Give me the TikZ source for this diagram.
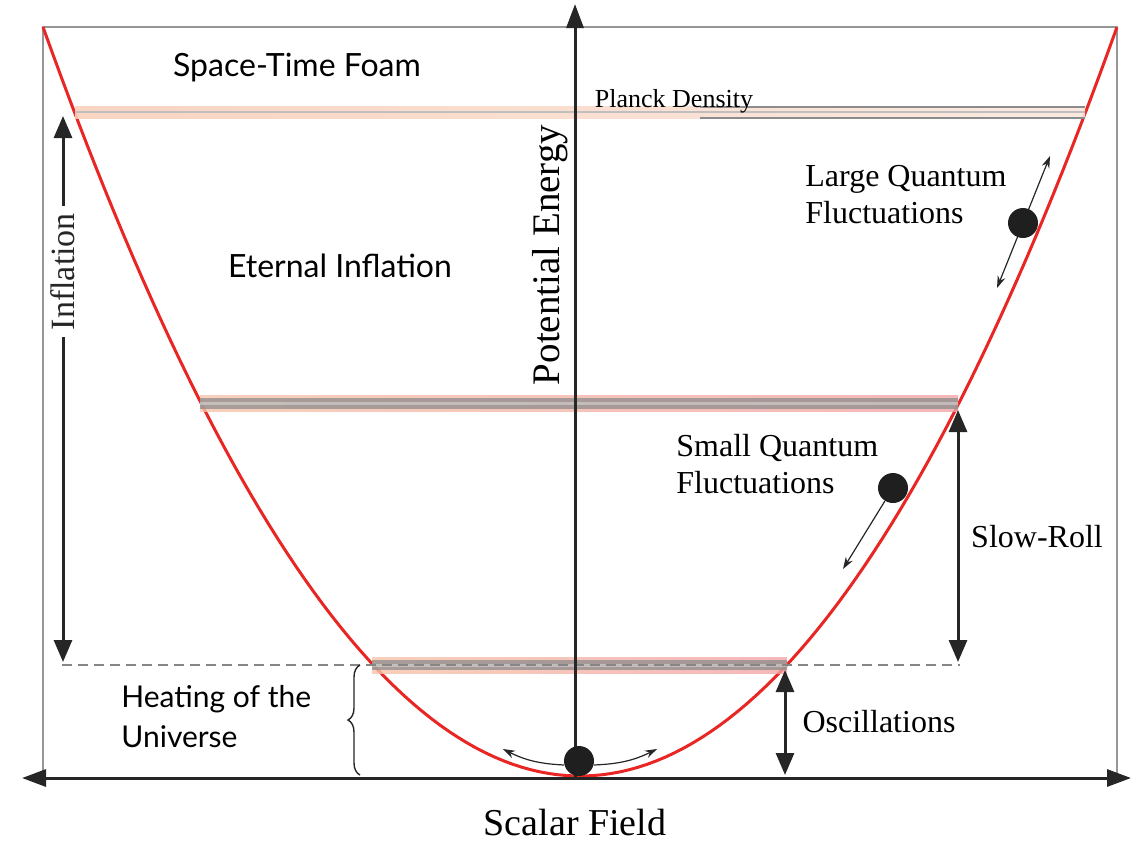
\documentclass[tikz,border=0pt]{standalone}
\usepackage{fontspec}
\setmainfont{Liberation Serif}
\newfontfamily\handfont{Lato}
\usetikzlibrary{arrows.meta,decorations.pathreplacing}
\definecolor{potred}{RGB}{232,38,36}
\definecolor{framegr}{RGB}{150,150,150}
\definecolor{bandpeach}{RGB}{246,196,170}
\definecolor{bandpink}{RGB}{242,165,168}
\definecolor{bandgray}{RGB}{140,140,140}

\begin{document}
\begin{tikzpicture}[x=0.5pt, y=-0.5pt,
  axis/.style={{Triangle[length=12pt,width=8.5pt]}-{Triangle[length=12pt,width=8.5pt]}, line width=1.5pt, black!85},
  axisup/.style={-{Triangle[length=12pt,width=8.5pt]}, line width=1.5pt, black!85},
  span/.style={{Triangle[length=11pt,width=9pt]}-{Triangle[length=11pt,width=9pt]}, line width=1.5pt, black!85},
  fluct/.style={line width=0.6pt, black!85, >={Stealth[length=6pt,width=4pt]}},
  ball/.style={circle, fill=black!88, inner sep=0pt, minimum size=15pt},
  lbl/.style={font=\fontsize{16}{18.5}\selectfont, align=left, inner sep=0pt},
  hand/.style={font=\handfont\fontsize{15}{20}\selectfont, align=left, inner sep=0pt},
  glow/.style={left color=bandpeach, right color=bandpink, opacity=0.8},
  core/.style={fill=bandgray, opacity=0.75},
]
\useasboundingbox (0,0) rectangle (1138,841);

% frame
\draw[framegr, line width=0.7pt] (43,778) -- (43,27) -- (1117,27) -- (1117,778);

% potential
\draw[potred, line width=1.5pt] plot[domain=-5.37:5.37, samples=120]
  ({580+100*\x},{776-749*(\x/5.37)*(\x/5.37)});

% energy levels
\shade[left color=bandpeach!80, right color=bandpeach!40, opacity=0.9] (75,106) rectangle (1085,118);
\draw[gray!50, line width=1.2pt] (75,112) -- (1085,112);
\draw[bandgray, line width=0.7pt] (700,107) -- (1085,107) (700,118) -- (1085,118);

\shade[glow] (200,395) rectangle (958,411);
\fill[core] (200,398) rectangle (958,409);
\draw[white, opacity=0.35, line width=1.5pt] (200,403.5) -- (958,403.5);

\shade[glow] (372,657) rectangle (787,673);
\fill[core] (372,660) rectangle (787,670);
\draw[white, opacity=0.35, line width=1.5pt] (372,665) -- (787,665);

\draw[gray!95, line width=1.2pt, dash pattern=on 5pt off 3pt] (62,665) -- (960,665);

% axes
\coordinate (xl) at (22,778);
\coordinate (xr) at (1131,778);
\coordinate (yb) at (575,778);
\coordinate (yt) at (575,4);
\draw[axis] (xl) -- (xr);
\draw[axisup] (yb) -- (yt);
\node[font=\fontsize{19.5}{22}\selectfont, rotate=90] (pe) at (550,255) {Potential Energy};
\node[font=\fontsize{19}{22}\selectfont] (sf) at (575,822) {Scalar Field};

% stages
\coordinate (infTop) at (63,116);
\coordinate (infBot) at (63,662);
\draw[span] (infTop) -- node[pos=0.285, rotate=90, fill=white, inner sep=3.5pt,
  font=\fontsize{17}{20}\selectfont] (inf) {Inflation} (infBot);

\coordinate (srTop) at (958,410);
\coordinate (srBot) at (958,662);
\draw[span] (srTop) -- (srBot);
\node[lbl] (sr) at (1037,537) {Slow-Roll};

\coordinate (osTop) at (785,670);
\coordinate (osBot) at (785,775);
\draw[span] (osTop) -- (osBot);
\node[lbl] (os) at (879,722) {Oscillations};

\coordinate (brBot) at (360,775);
\coordinate (brTop) at (360,665);
\draw[black!85, line width=0.7pt, decorate, decoration={brace, amplitude=6pt}] (brBot) -- (brTop);
\node[hand, anchor=west] (heat) at (121,717) {Heating of the\\Universe};

\node[hand, font=\handfont\fontsize{16}{20}\selectfont] (foam) at (297,68) {Space-Time Foam};
\node[font=\fontsize{13}{15}\selectfont] (planck) at (674,101) {Planck Density};
\node[hand, font=\handfont\fontsize{16}{20}\selectfont] (eternal) at (340,266) {Eternal Inflation};

% fluctuations
\coordinate (lqUp) at (1050,156);
\coordinate (lqDown) at (997,288);
\draw[fluct, <->] (lqUp) -- (lqDown);
\node[ball] (lb) at (1023,223) {};
\node[lbl, anchor=west] (lq) at (805,195) {Large Quantum\\Fluctuations};

\node[ball] (sb) at (893,488) {};
\coordinate (sqEnd) at (843,569);
\draw[fluct, ->] (sb.238) -- (sqEnd);
\node[lbl, anchor=west] (sq) at (676,464) {Small Quantum\\Fluctuations};

\node[ball] (b0) at (579,761) {};
\coordinate (osL) at (503,749);
\coordinate (osR) at (657,749);
\draw[fluct, ->] (b0.195) to[bend left=12] (osL);
\draw[fluct, ->] (b0.-15) to[bend right=12] (osR);
\end{tikzpicture}
\end{document}
